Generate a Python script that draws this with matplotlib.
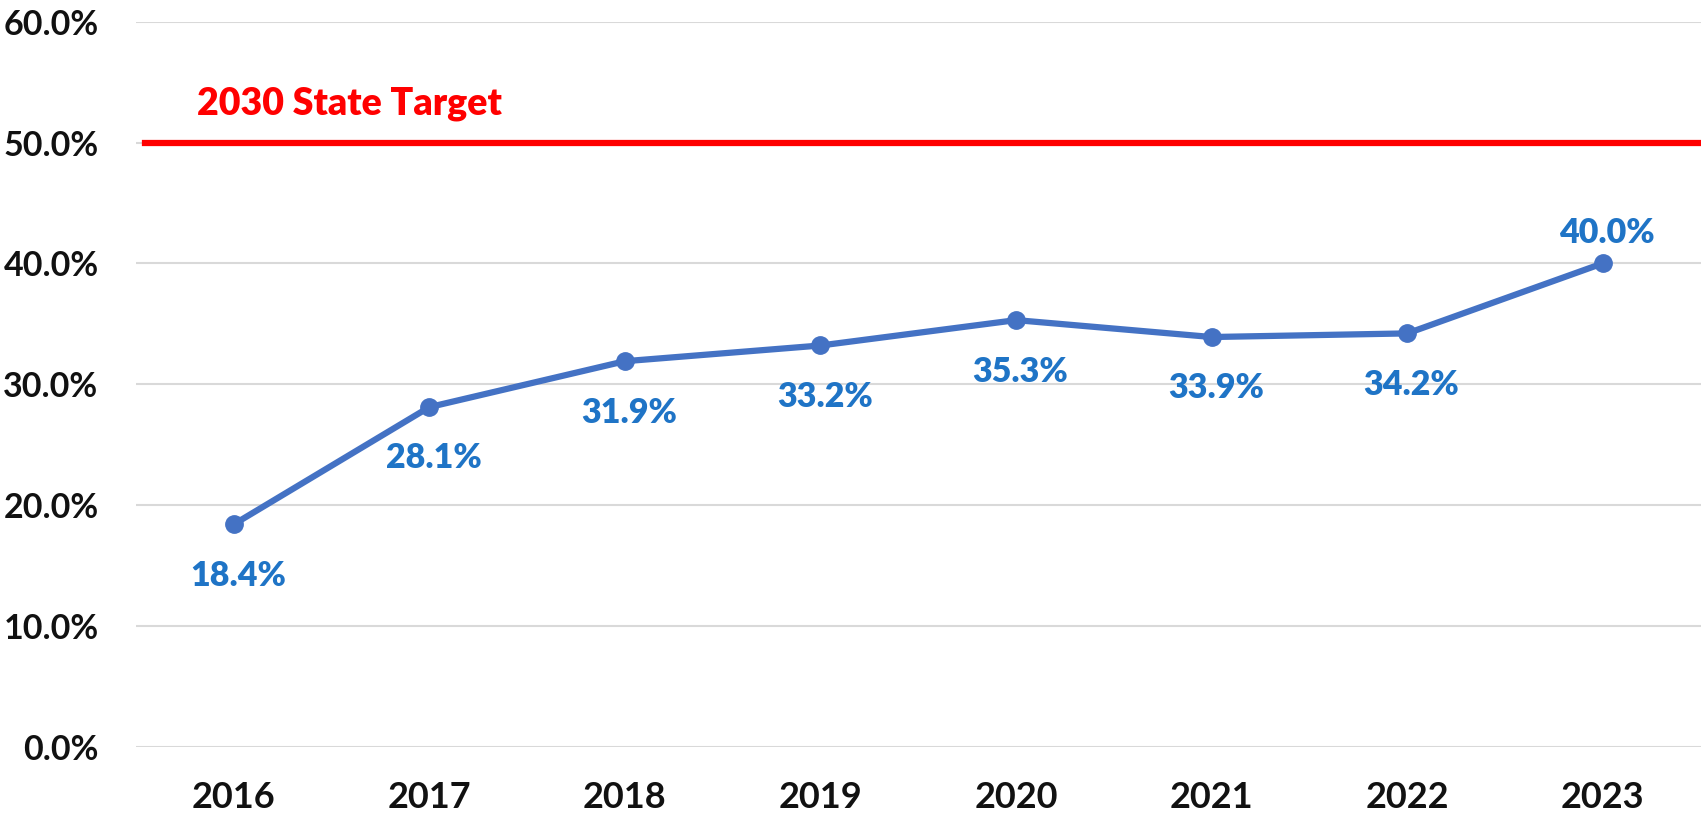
import matplotlib.pyplot as plt
from matplotlib.ticker import FuncFormatter

years = ["2016", "2017", "2018", "2019", "2020", "2021", "2022", "2023"]
share = [18.4, 28.1, 31.9, 33.2, 35.3, 33.9, 34.2, 40.0]
target = 50.0
target_label = "2030 State Target"
y_ticks = [0, 10, 20, 30, 40, 50, 60]

plt.rcParams['font.family'] = ['Lato', 'DejaVu Sans']
plt.rcParams['font.weight'] = 'bold'

fig = plt.figure(figsize=(17.04, 8.15), dpi=100)
ax = fig.add_axes([0.0798, 0.0839, 0.9182, 0.8895])

x = list(range(len(years)))

# gridlines
ax.set_ylim(0, 60)
ax.set_xlim(-0.5, len(years) - 0.5)
ax.set_yticks(y_ticks)
ax.yaxis.set_major_formatter(FuncFormatter(lambda v, p: "%.1f%%" % v))
ax.grid(axis='y', color='#D9D9D9', linewidth=1.5)
ax.set_axisbelow(True)
for s in ax.spines.values():
    s.set_visible(False)
ax.tick_params(axis='y', length=0, pad=27, labelsize=24.5, labelcolor='#111111')
ax.set_xticks(x)
ax.set_xticklabels(years)
ax.tick_params(axis='x', length=0, pad=25, labelsize=26, labelcolor='#111111')

# target line
ax.axhline(target, xmin=0.006, xmax=1, color='#FF0000', linewidth=4.5, zorder=3)
ax.text(-0.19, 53.2, target_label, color='#FF0000', fontsize=27,
        fontweight='heavy', ha='left', va='center')

# main series
ax.plot(x, share, color='#4472C4', linewidth=4.5, marker='o', markersize=12.5,
        zorder=4, clip_on=False)

for i, v in enumerate(share):
    if i == len(share) - 1:
        off = 22
    else:
        off = -37
    ax.annotate("%.1f%%" % v, (x[i], v), xytext=(3, off), textcoords='offset points',
                ha='center', va='center', fontsize=24.5, fontweight='heavy',
                color='#1F74C6')

fig.savefig("out.png", dpi=100)
